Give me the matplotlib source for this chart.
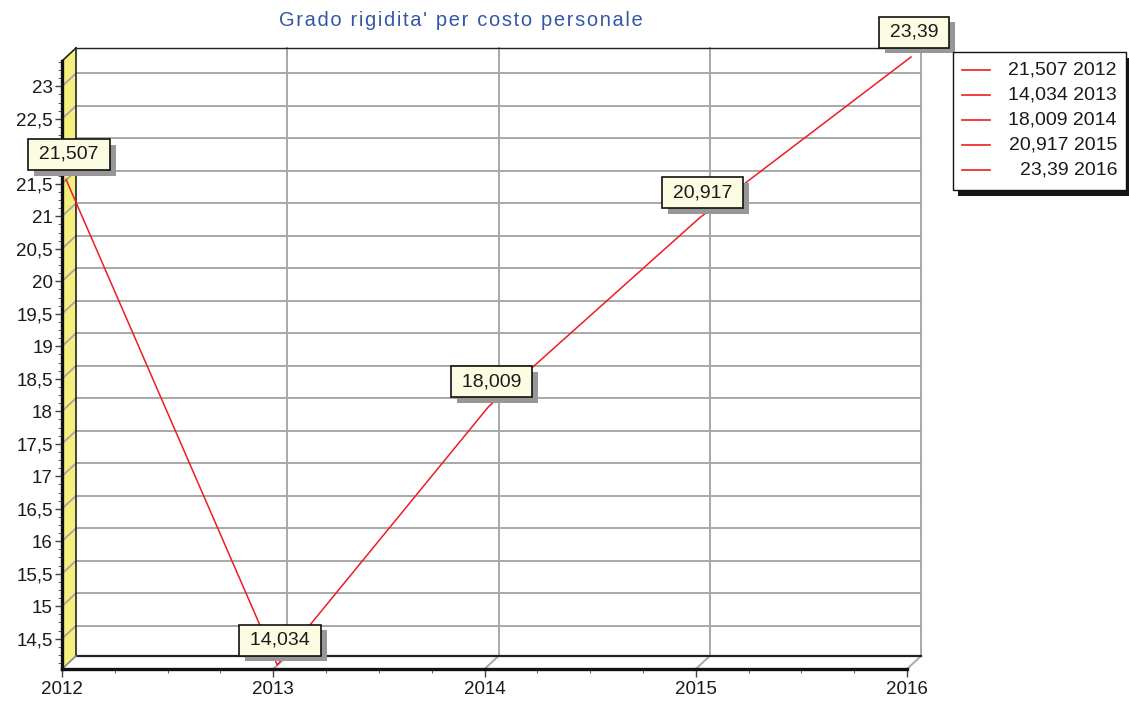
import matplotlib
matplotlib.use('Agg')
import numpy as np
import matplotlib.pyplot as plt
import matplotlib.patheffects as pe
from matplotlib.transforms import ScaledTranslation, IdentityTransform
from matplotlib.patches import Polygon, Rectangle
from matplotlib.lines import Line2D
from matplotlib.ticker import MultipleLocator, FuncFormatter

# Data
years = [2012, 2013, 2014, 2015, 2016]
values = [21.507, 14.034, 18.009, 20.917, 23.39]
value_labels = ['21,507', '14,034', '18,009', '20,917', '23,39']
title = "Grado rigidita' per costo personale"

plt.rcParams['font.family'] = ['Liberation Sans', 'DejaVu Sans']

W, H = 1129, 705
fig = plt.figure(figsize=(W / 100, H / 100), dpi=100)
ax = fig.add_axes([62 / W, 36 / H, 845 / W, 608 / H])
ymin, ymax = min(values), max(values)
ax.set_xlim(years[0], years[-1])
ax.set_ylim(ymin, ymax)
ax.set_facecolor('none')

# 3D depth in pixels
DX, DY = 14, 13
back = ax.transData + ScaledTranslation(DX / 100, DY / 100, fig.dpi_scale_trans)
mid = ax.transData + ScaledTranslation(4 / 100, 4 / 100, fig.dpi_scale_trans)


def disp(x, y, d=0.0):
    px, py = ax.transData.transform((x, y))
    return px + d * DX, py + d * DY


def seg(x, y, **kw):
    p0, p1 = disp(x, y, 0), disp(x, y, 1)
    ax.add_line(Line2D([p0[0], p1[0]], [p0[1], p1[1]], transform=IdentityTransform(),
                       clip_on=False, **kw))


grid_c = '#a8a8a8'

# left wall (yellow)
wall = [disp(years[0], ymin, 0), disp(years[0], ymax, 0),
        disp(years[0], ymax, 1), disp(years[0], ymin, 1)]
ax.add_patch(Polygon(wall, closed=True, transform=IdentityTransform(), clip_on=False,
                     facecolor='#f5f07e', edgecolor='none', zorder=0.5))

# horizontal gridlines on back wall + across left wall
for v in np.arange(14.5, 23.01, 0.5):
    ax.plot([years[0], years[-1]], [v, v], transform=back, color=grid_c, lw=1.4,
            clip_on=False, zorder=0.6)
    seg(years[0], v, color=grid_c, lw=1.4, zorder=0.6)

# vertical gridlines on back wall + across floor
for yr in years[1:]:
    ax.plot([yr, yr], [ymin, ymax], transform=back, color=grid_c, lw=1.4,
            clip_on=False, zorder=0.6)
    seg(yr, ymin, color=grid_c, lw=1.4, zorder=0.6)

# back wall edges
ax.plot([years[0], years[-1]], [ymax, ymax], transform=back, color='#222222', lw=1.0,
        clip_on=False, zorder=0.7)
ax.plot([years[0], years[0]], [ymin, ymax], transform=back, color='#222222', lw=1.2,
        clip_on=False, zorder=0.7)
ax.plot([years[0], years[-1]], [ymin, ymin], transform=back, color='#222222', lw=1.6,
        clip_on=False, zorder=0.7)
seg(years[0], ymax, color='#222222', lw=1.2, zorder=0.7)
seg(years[0], ymin, color='#888888', lw=1.2, zorder=0.7)

# front spines
for s in ['top', 'right']:
    ax.spines[s].set_visible(False)
for s in ['left', 'bottom']:
    ax.spines[s].set_linewidth(2.4)
    ax.spines[s].set_color('#111111')

ax.yaxis.set_major_locator(MultipleLocator(0.5))
ax.yaxis.set_minor_locator(MultipleLocator(0.125))
ax.xaxis.set_major_locator(MultipleLocator(1))
ax.xaxis.set_minor_locator(MultipleLocator(0.25))
ax.yaxis.set_major_formatter(FuncFormatter(lambda v, _: f'{v:g}'.replace('.', ',')))
ax.xaxis.set_major_formatter(FuncFormatter(lambda v, _: f'{int(round(v))}'))
ax.tick_params(axis='both', which='major', labelsize=13.5, labelcolor='#1a1a1a',
               color='#444444', width=1)
ax.tick_params(axis='y', which='major', length=5, pad=1.5)
ax.tick_params(axis='y', which='minor', length=3, color='#444444')
ax.tick_params(axis='x', which='major', length=6, pad=3)
ax.tick_params(axis='x', which='minor', length=3, color='#444444')

# data line
ax.plot(years, values, color='#ee1c24', lw=1.1, transform=mid, clip_on=False, zorder=3)

# value labels
for yr, v, lab in zip(years, values, value_labels):
    t = ax.annotate('\u2009' + lab + '\u2009', xy=(yr, v), xytext=(7, 29),
                    textcoords='offset pixels', ha='center', va='center', fontsize=14,
                    color='#1a1a1a', zorder=5, annotation_clip=False,
                    bbox=dict(boxstyle='square,pad=0.36', fc='#fcfce2', ec='#111111', lw=1.2))
    t.get_bbox_patch().set_path_effects([
        pe.SimplePatchShadow(offset=(4.3, -4.3), shadow_rgbFace='#979797', alpha=1.0),
        pe.Normal()])

# title
fig.text(461 / W, 1 - 20 / H, '\u200a'.join(title), ha='center', va='center',
         fontsize=14.5, color='#3556a8')

# legend (manual, right-aligned labels)
lx0, lx1, ly0, ly1 = 953, 1126, 52, 190
fig.patches.append(Rectangle((lx0 / W + 5 / W, 1 - (ly1 + 6) / H), (lx1 - lx0) / W, (ly1 - ly0) / H,
                             transform=fig.transFigure, facecolor='#151515', edgecolor='none',
                             zorder=1))
fig.patches.append(Rectangle((lx0 / W, 1 - ly1 / H), (lx1 - lx0) / W, (ly1 - ly0) / H,
                             transform=fig.transFigure, facecolor='white', edgecolor='#111111',
                             lw=1.0, zorder=1.5))
for i, (yr, lab) in enumerate(zip(years, value_labels)):
    yy = 1 - (70 + i * 25) / H
    fig.lines.append(Line2D([962 / W, 990 / W], [yy, yy], transform=fig.transFigure,
                            color='#ee1c24', lw=1.2, zorder=2))
    fig.text(1117 / W, yy, f'{lab} {yr}', ha='right', va='center', fontsize=14,
             color='#1a1a1a', zorder=3)

fig.savefig('out.png', dpi=100)
